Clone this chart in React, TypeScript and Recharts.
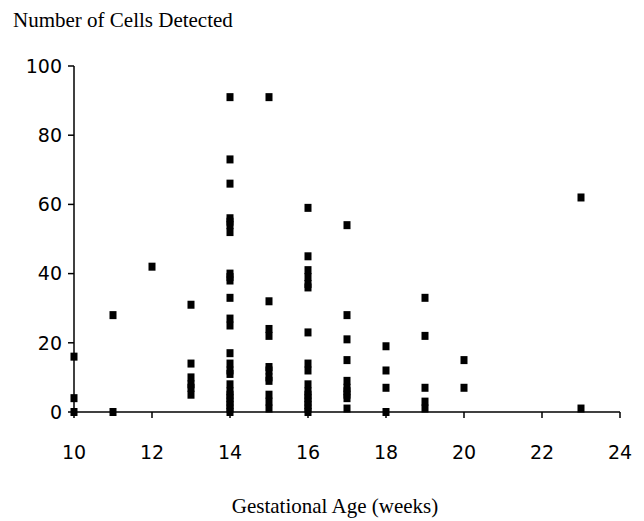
import { ScatterChart, Scatter, XAxis, YAxis } from 'recharts';

// cell counts per gestational week
const week10 = [16, 4, 0];
const week11 = [28, 0];
const week12 = [42];
const week13 = [31, 14, 10, 8, 7, 5];
const week14 = [91, 73, 66, 56, 55, 54, 52, 40, 39, 38, 33, 27, 25, 17, 14, 12, 11, 8, 6, 5, 4, 3, 2, 1, 0];
const week15 = [91, 32, 24, 22, 13, 12, 10, 9, 5, 3, 1];
const week16 = [59, 45, 41, 39, 37, 36, 23, 14, 12, 8, 6, 5, 4, 3, 2, 1, 0];
const week17 = [54, 28, 21, 15, 9, 7, 6, 5, 4, 1];
const week18 = [19, 12, 7, 0];
const week19 = [33, 22, 7, 3, 1];
const week20 = [15, 7];
const week23 = [62, 1];

const weeks: [number, number[]][] = [
   [10, week10], [11, week11], [12, week12], [13, week13], [14, week14], [15, week15],
   [16, week16], [17, week17], [18, week18], [19, week19], [20, week20], [23, week23],
];

const xTicks = [10, 12, 14, 16, 18, 20, 22, 24];
const yTicks = [0, 20, 40, 60, 80, 100];

const points = weeks.flatMap(([age, cells]) => cells.map((n) => ({ age, cells: n })));

const tickFont = { fontFamily: 'DejaVu Sans', fontSize: 19, fill: '#000' };
const serif = { fontFamily: '"Liberation Serif", "Times New Roman", serif', fontSize: 21, color: '#000' };

function Square(props: any) {
   const { cx, cy } = props;
   return <rect x={cx - 3.5} y={cy - 4} width={7} height={8} fill="#000" />;
}

export default function App() {
   return (
      <div style={{ position: 'absolute', left: 0, top: 0, width: 644, height: 521, background: '#fff' }}>
         <div style={{ ...serif, position: 'absolute', left: 13, top: 8, whiteSpace: 'nowrap' }}>
            Number of Cells Detected
         </div>
         <ScatterChart width={644} height={521} margin={{ top: 66, right: 24, bottom: 59, left: 14 }}>
            <XAxis
               type="number"
               dataKey="age"
               domain={[10, 24]}
               ticks={xTicks}
               height={50}
               tickSize={6}
               tickMargin={28}
               tick={tickFont}
               axisLine={{ stroke: '#000', strokeWidth: 1.5 }}
               tickLine={{ stroke: '#000', strokeWidth: 1.5 }}
            />
            <YAxis
               type="number"
               dataKey="cells"
               domain={[0, 100]}
               ticks={yTicks}
               width={60}
               tickSize={6}
               tickMargin={6}
               tick={tickFont}
               axisLine={{ stroke: '#000', strokeWidth: 1.5 }}
               tickLine={{ stroke: '#000', strokeWidth: 1.5 }}
            />
            <Scatter data={points} shape={<Square />} isAnimationActive={false} />
         </ScatterChart>
         <div style={{ ...serif, position: 'absolute', left: 0, width: 670, top: 494, textAlign: 'center', whiteSpace: 'nowrap' }}>
            Gestational Age (weeks)
         </div>
      </div>
   );
}
